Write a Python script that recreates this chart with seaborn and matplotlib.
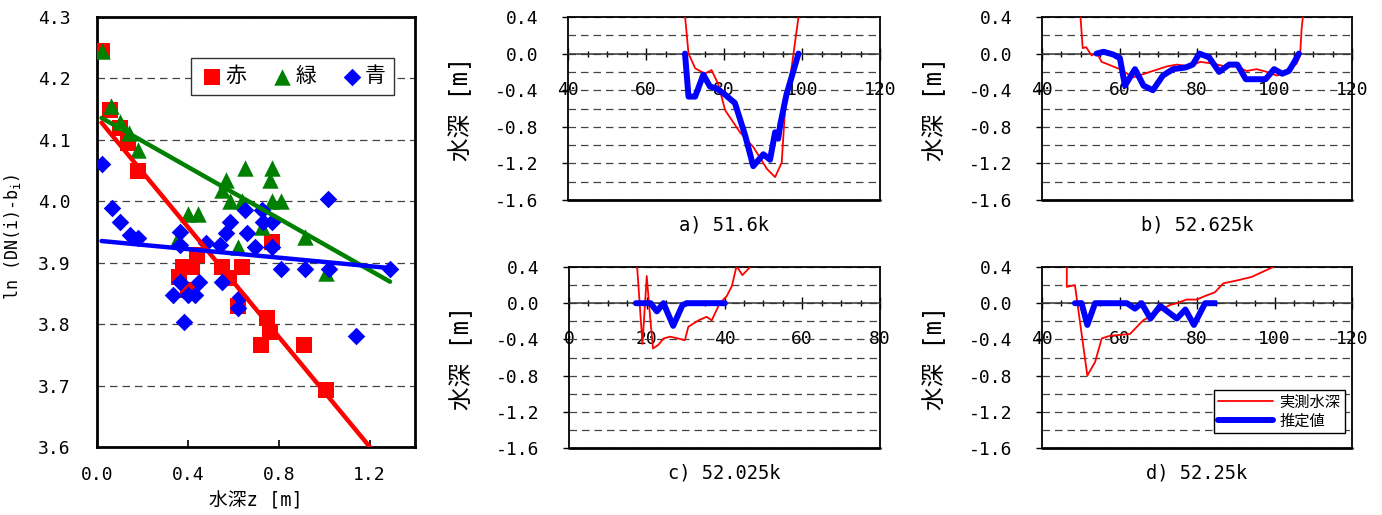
import numpy as np
import matplotlib
matplotlib.use("Agg")
import matplotlib.pyplot as plt
from matplotlib.ticker import MultipleLocator, FixedLocator, FormatStrFormatter
import seaborn as sns

# ---------------- scatter data (left panel) ----------------
red_x = [0.02, 0.057, 0.10, 0.137, 0.18, 0.36, 0.38, 0.42, 0.40, 0.44, 0.55, 0.58, 0.64, 0.62,
         0.77, 0.75, 0.76, 0.72, 0.91, 1.01]
red_y = [4.245, 4.149, 4.120, 4.095, 4.050, 3.877, 3.893, 3.893, 3.855, 3.912, 3.893, 3.875, 3.893, 3.830,
         3.934, 3.810, 3.787, 3.766, 3.766, 3.693]

green_x = [0.02, 0.06, 0.10, 0.14, 0.18, 0.35, 0.40, 0.445, 0.55, 0.57, 0.585, 0.62, 0.64, 0.65,
           0.725, 0.76, 0.77, 0.77, 0.81, 0.915, 1.01]
green_y = [4.245, 4.155, 4.129, 4.111, 4.083, 3.937, 3.980, 3.980, 4.018, 4.035, 4.000, 3.926, 4.000, 4.054,
           3.958, 4.035, 4.054, 4.000, 4.000, 3.942, 3.883]

blue_x = [0.02, 0.065, 0.10, 0.145, 0.18, 0.365, 0.365, 0.48, 0.54, 0.57, 0.585, 0.65, 0.66, 0.695,
          0.725, 0.73, 0.77, 0.77, 1.015, 0.81, 0.915, 1.02, 1.29, 0.365, 0.335, 0.40, 0.43, 0.45,
          0.55, 0.63, 0.62, 0.385, 1.14]
blue_y = [4.061, 3.989, 3.966, 3.945, 3.940, 3.950, 3.929, 3.932, 3.929, 3.948, 3.966, 3.986, 3.948, 3.926,
          3.986, 3.966, 3.966, 3.926, 4.004, 3.889, 3.889, 3.889, 3.889, 3.869, 3.847, 3.847, 3.847, 3.869,
          3.869, 3.845, 3.826, 3.804, 3.781]

# linear trend lines: (intercept, slope) and x-range
red_fit = [4.137, -0.447]
green_fit = [4.140, -0.210]
blue_fit = [3.936, -0.0347]
fit_x = [0.02, 1.29]

series_labels = ["赤", "緑", "青"]

# ---------------- cross-section data (right panels) ----------------
a_meas_x = [69.6, 70.9, 72.6, 75.1, 76.8, 78.5, 80.3, 84.1, 87.5, 91.0, 93.1, 94.8, 95.6, 97.4, 99.1, 99.7]
a_meas_y = [0.6, 0.0, -0.16, -0.22, -0.18, -0.33, -0.62, -0.86, -1.02, -1.26, -1.35, -1.19, -0.64, -0.13, 0.4, 0.6]
a_est_x = [70.0, 70.9, 72.6, 74.7, 76.4, 78.1, 80.3, 82.8, 85.4, 87.5, 90.1, 91.8, 93.1, 93.9, 94.4, 96.0, 99.1]
a_est_y = [0.0, -0.47, -0.47, -0.23, -0.36, -0.38, -0.45, -0.54, -0.89, -1.23, -1.10, -1.16, -0.86, -0.93, -0.78, -0.45, 0.0]

b_meas_x = [49.6, 50.5, 51.4, 52.8, 54.1, 55.4, 60.1, 63.6, 68.6, 72.2, 74.8, 78.2, 80.8, 84.2, 87.2, 90.2,
            92.8, 95.4, 98.0, 100.6, 103.1, 105.7, 106.6, 107.0, 107.8]
b_meas_y = [0.6, 0.06, 0.07, -0.02, 0.01, -0.09, -0.17, -0.26, -0.19, -0.14, -0.12, -0.14, -0.09, -0.11, -0.14, -0.14,
            -0.19, -0.17, -0.20, -0.24, -0.20, -0.11, -0.02, 0.27, 0.6]
b_est_x = [54.1, 55.9, 58.4, 60.1, 61.4, 64.0, 66.2, 68.6, 71.2, 73.8, 77.2, 78.9, 80.6, 83.1, 85.7, 88.3,
           90.4, 92.6, 95.1, 97.7, 99.9, 102.0, 103.7, 105.0, 106.3]
b_est_y = [0.0, 0.02, -0.01, -0.05, -0.35, -0.17, -0.35, -0.40, -0.24, -0.17, -0.15, -0.12, 0.0, -0.04, -0.20, -0.12,
           -0.12, -0.28, -0.28, -0.28, -0.17, -0.22, -0.19, -0.10, 0.0]

c_meas_x = [17.2, 18.9, 20.0, 20.7, 21.6, 23.0, 24.3, 26.0, 28.1, 29.8, 30.7, 33.3, 35.4, 36.7, 38.8, 40.6,
            41.9, 43.1, 44.6, 46.6, 48.0]
c_meas_y = [0.6, -0.45, 0.30, -0.07, -0.50, -0.46, -0.39, -0.37, -0.39, -0.41, -0.26, -0.19, -0.15, -0.19, 0.0, 0.08,
            0.19, 0.41, 0.31, 0.40, 0.5]
c_est_x = [17.2, 21.0, 22.6, 24.3, 26.8, 29.2, 30.3, 40.1]
c_est_y = [0.0, 0.0, -0.09, 0.0, -0.25, -0.02, 0.0, 0.0]

d_meas_x = [46.4, 46.4, 48.5, 51.7, 53.7, 55.4, 57.5, 62.7, 66.1, 70.5, 73.0, 74.8, 77.3, 79.9, 82.1, 84.6,
            86.8, 90.2, 94.1, 97.1, 99.7, 101.0]
d_meas_y = [0.6, 0.18, 0.20, -0.80, -0.65, -0.39, -0.36, -0.34, -0.19, -0.08, -0.02, 0.0, 0.04, 0.04, 0.08, 0.12,
            0.22, 0.25, 0.29, 0.35, 0.40, 0.45]
d_est_x = [48.5, 50.2, 51.7, 53.7, 61.9, 64.0, 65.7, 68.0, 70.5, 74.8, 77.0, 79.2, 82.1, 84.6]
d_est_y = [0.0, 0.0, -0.24, 0.0, 0.0, -0.06, 0.0, -0.17, -0.03, -0.17, -0.07, -0.24, 0.0, 0.0]

panel_titles = ["a) 51.6k", "b) 52.625k", "c) 52.025k", "d) 52.25k"]
line_labels = ["実測水深", "推定値"]

# ---------------- style ----------------
sns.set_theme(style="white")
plt.rcParams['font.family'] = ['DejaVu Sans Mono', 'Noto Sans CJK JP']
plt.rcParams['axes.unicode_minus'] = False
plt.rcParams['mathtext.fontset'] = 'custom'
plt.rcParams['mathtext.rm'] = 'DejaVu Sans Mono'
plt.rcParams['mathtext.it'] = 'DejaVu Sans Mono'
for k in ['text.color', 'axes.labelcolor', 'xtick.color', 'ytick.color']:
    plt.rcParams[k] = 'black'

W, H = 1382, 515
fig = plt.figure(figsize=(W / 100, H / 100), dpi=100)


def rect(l, t, r, b):
    return [l / W, 1 - b / H, (r - l) / W, (b - t) / H]


GRID = dict(color='#444444', linestyle=(0, (6, 4)), linewidth=0.9)

# ---------------- left scatter ----------------
ax = fig.add_axes(rect(97, 17, 415, 447))
ax.set_axisbelow(True)
sns.scatterplot(x=red_x, y=red_y, marker='s', s=140, color='#FF0000', linewidth=0,
                ax=ax, legend=False, label=series_labels[0], zorder=3)
sns.scatterplot(x=green_x, y=green_y, marker='^', s=140, color='#008000', linewidth=0,
                ax=ax, legend=False, label=series_labels[1], zorder=3)
sns.scatterplot(x=blue_x, y=blue_y, marker='D', s=80, color='#0000FF', linewidth=0,
                ax=ax, legend=False, label=series_labels[2], zorder=3)
fx = np.array(fit_x)
for fit, col in [(red_fit, '#FF0000'), (green_fit, '#008000'), (blue_fit, '#0000FF')]:
    sns.lineplot(x=fx, y=fit[0] + fit[1] * fx, color=col, linewidth=3.2, ax=ax,
                 sort=False, estimator=None, zorder=4)
ax.set_xlim(0, 1.4)
ax.set_ylim(3.6, 4.3)
ax.xaxis.set_major_locator(FixedLocator([0.0, 0.4, 0.8, 1.2]))
ax.yaxis.set_major_locator(MultipleLocator(0.1))
ax.xaxis.set_major_formatter(FormatStrFormatter('%.1f'))
ax.yaxis.set_major_formatter(FormatStrFormatter('%.1f'))
ax.grid(axis='y', **GRID)
for sp in ax.spines.values():
    sp.set_color('black')
    sp.set_linewidth(2.0)
ax.tick_params(axis='x', bottom=True, direction='in', length=5, width=1.2, pad=14, labelsize=13)
ax.tick_params(axis='y', left=False, length=0, pad=19, labelsize=13)
ax.set_xlabel("水深z [m]", fontsize=13.5)
ax.set_ylabel(r"ln (DN(i)-b$_{\mathrm{i}}$)", fontsize=12)
ax.xaxis.set_label_coords(0.5, -0.103)
ax.yaxis.set_label_coords(-0.232, 0.488)
leg = ax.legend(loc='upper left', bbox_to_anchor=(0.296, 0.905), ncol=3, fontsize=15,
                frameon=True, fancybox=False, edgecolor='#333333', framealpha=1,
                handletextpad=0.05, columnspacing=1.1, borderpad=0.4, handlelength=1.2,
                borderaxespad=0)
leg.get_frame().set_linewidth(1.0)


# ---------------- cross-section panels ----------------
def panel(box, mx, my, ex, ey, xmin, xmax, title, show_legend=False):
    ax = fig.add_axes(rect(*box))
    ax.set_axisbelow(True)
    kw_m = dict(label=line_labels[0]) if show_legend else {}
    kw_e = dict(label=line_labels[1]) if show_legend else {}
    sns.lineplot(x=mx, y=my, sort=False, estimator=None, color='#FF0000', linewidth=1.3,
                 ax=ax, zorder=3, **kw_m)
    sns.lineplot(x=ex, y=ey, sort=False, estimator=None, color='#0000FF', linewidth=4.3,
                 solid_capstyle='round', solid_joinstyle='round', ax=ax, zorder=4, **kw_e)
    ax.set_xlim(xmin, xmax)
    ax.set_ylim(-1.6, 0.4)
    ax.xaxis.set_major_locator(MultipleLocator(20))
    ax.xaxis.set_minor_locator(MultipleLocator(5))
    ax.yaxis.set_major_locator(MultipleLocator(0.4))
    ax.yaxis.set_minor_locator(MultipleLocator(0.2))
    ax.xaxis.set_major_formatter(FormatStrFormatter('%d'))
    ax.yaxis.set_major_formatter(FormatStrFormatter('%.1f'))
    ax.grid(axis='y', which='both', **GRID)
    for name in ['left', 'right', 'top']:
        ax.spines[name].set_color('black')
        ax.spines[name].set_linewidth(1.3)
    ax.spines['bottom'].set_position(('data', 0))
    ax.spines['bottom'].set_color('#333333')
    ax.spines['bottom'].set_linewidth(1.1)
    ax.axhline(-1.6, color='black', linewidth=2.0, clip_on=False, zorder=5)
    ax.tick_params(axis='x', which='major', bottom=True, direction='inout', length=9, width=1,
                   pad=15, labelsize=13)
    ax.tick_params(axis='x', which='minor', bottom=True, direction='inout', length=5, width=1)
    ax.tick_params(axis='y', which='major', left=True, direction='out', length=4, width=1,
                   pad=17, labelsize=13)
    ax.tick_params(axis='y', which='minor', left=False, length=0)
    ax.set_xlabel("")
    ax.set_ylabel("水深 [m]", fontsize=17)
    ax.yaxis.set_label_coords(-0.305, 0.5)
    ax.text(0.5, -0.138, title, transform=ax.transAxes, ha='center', va='center', fontsize=13.5)
    if show_legend:
        lg = ax.legend(loc='lower right', bbox_to_anchor=(0.977, 0.082), fontsize=11,
                       frameon=True, fancybox=False, edgecolor='black', framealpha=1,
                       handlelength=3.6, borderpad=0.3, labelspacing=0.25, handletextpad=0.4,
                       borderaxespad=0)
        lg.get_frame().set_linewidth(1.0)
    else:
        if ax.get_legend() is not None:
            ax.get_legend().remove()
    return ax


panel((568, 17, 880, 200), a_meas_x, a_meas_y, a_est_x, a_est_y, 40, 120, panel_titles[0])
panel((1042, 17, 1352, 200), b_meas_x, b_meas_y, b_est_x, b_est_y, 40, 120, panel_titles[1])
panel((569, 267, 880, 448), c_meas_x, c_meas_y, c_est_x, c_est_y, 0, 80, panel_titles[2])
panel((1042, 267, 1352, 448), d_meas_x, d_meas_y, d_est_x, d_est_y, 40, 120, panel_titles[3],
      show_legend=True)

fig.savefig("out.png", dpi=100)
